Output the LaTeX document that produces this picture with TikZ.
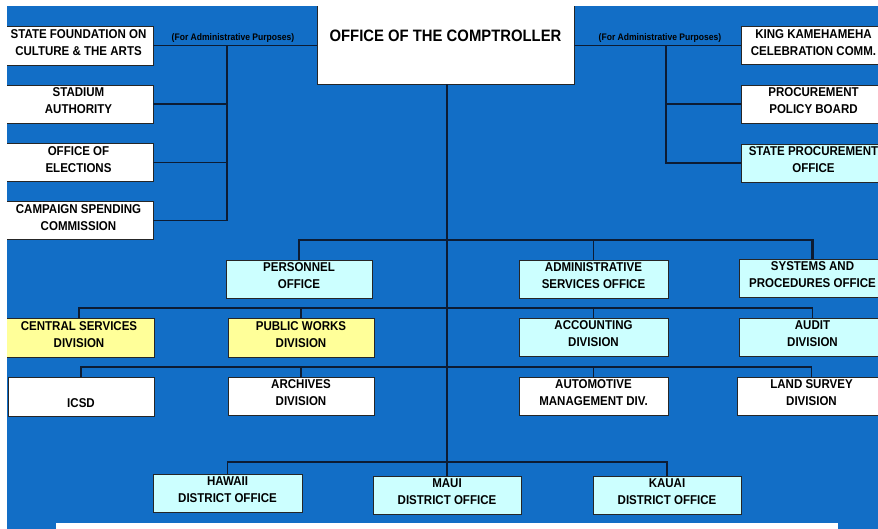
\documentclass[tikz,border=0pt]{standalone}
\usepackage{fontspec}
\setmainfont[FakeStretch=0.9]{Liberation Sans}
\usepackage{tikz}
\definecolor{org_blue}{RGB}{18, 110, 198}
\definecolor{org_cyan}{RGB}{204, 255, 255}
\definecolor{org_yellow}{RGB}{255, 255, 153}
\definecolor{org_line}{RGB}{12, 28, 52}
\tikzstyle{wb}=[rectangle,fill=white,draw=black!85,line width=0.9pt,inner sep=0pt,
  minimum width=146pt,minimum height=38pt,align=center,font=\fontsize{12.8}{17}\selectfont\bfseries,
  execute at end node={\rule[-6pt]{0pt}{6pt}}]
\tikzstyle{cb}=[wb,fill=org_cyan]
\tikzstyle{yb}=[wb,fill=org_yellow]
\tikzstyle{tb}=[rectangle,fill=white,draw=black!85,line width=0.9pt,inner sep=0pt,
  minimum width=257pt,minimum height=82pt,align=center,font=\fontsize{16.5}{11}\selectfont\bfseries]
\tikzstyle{ln}=[draw=org_line,line width=1.3pt]
\tikzstyle{note}=[inner sep=0pt,font=\fontsize{9.5}{11}\selectfont\bfseries]

\begin{document}
\begin{tikzpicture}[x=1pt,y=-1pt]
    \useasboundingbox (0,0) rectangle (878,529);
    \fill[org_blue] (0,0) rectangle (878,529);
    % top level
    \node [style=tb] (comp) at (445.5,43) {OFFICE OF THE COMPTROLLER\\\strut};
    \node [style=wb,minimum width=149pt,minimum height=39pt] (culture) at (78.5,45.5) {STATE FOUNDATION ON\\CULTURE \& THE ARTS};
    \node [style=wb,minimum width=149pt] (stadium) at (78.5,104) {STADIUM\\AUTHORITY};
    \node [style=wb,minimum width=149pt] (elections) at (78.5,162.5) {OFFICE OF\\ELECTIONS};
    \node [style=wb,minimum width=149pt] (campaign) at (78.5,220.5) {CAMPAIGN SPENDING\\COMMISSION};
    \node [style=wb,minimum width=145pt] (king) at (813.5,45.5) {KING KAMEHAMEHA\\CELEBRATION COMM.};
    \node [style=wb,minimum width=145pt] (policy) at (813.5,104) {PROCUREMENT\\POLICY BOARD};
    \node [style=cb,minimum width=145pt] (spo) at (813.5,163) {STATE PROCUREMENT\\OFFICE};
    \node [style=note] (lnote) at (233,38) {(For Administrative Purposes)};
    \node [style=note] (rnote) at (660,38) {(For Administrative Purposes)};
    % staff offices
    \node [style=cb] (pers) at (299,279) {PERSONNEL\\OFFICE};
    \node [style=cb,minimum width=149pt] (adms) at (593.5,279) {ADMINISTRATIVE\\SERVICES OFFICE};
    \node [style=cb,minimum width=147pt] (sysp) at (812.5,278) {SYSTEMS AND\\PROCEDURES OFFICE};
    % divisions
    \node [style=yb,minimum width=150pt,minimum height=39pt] (csd) at (79,337.5) {CENTRAL SERVICES\\DIVISION};
    \node [style=yb,minimum height=39pt] (pwd) at (301,337.5) {PUBLIC WORKS\\DIVISION};
    \node [style=cb,minimum width=149pt] (acct) at (593.5,337) {ACCOUNTING\\DIVISION};
    \node [style=cb,minimum width=147pt] (audit) at (812.5,337) {AUDIT\\DIVISION};
    \node [style=wb,minimum height=39pt] (icsd) at (81,396.5) {\strut\\ICSD};
    \node [style=wb] (arch) at (301,396) {ARCHIVES\\DIVISION};
    \node [style=wb,minimum width=149pt] (auto) at (593.5,396) {AUTOMOTIVE\\MANAGEMENT DIV.};
    \node [style=wb,minimum width=149pt] (land) at (811.5,396) {LAND SURVEY\\DIVISION};
    % district offices
    \node [style=cb,minimum width=149pt] (hawaii) at (227.5,493) {HAWAII\\DISTRICT OFFICE};
    \node [style=cb,minimum width=148pt] (maui) at (447,495) {MAUI\\DISTRICT OFFICE};
    \node [style=cb,minimum width=148pt] (kauai) at (667,495) {KAUAI\\DISTRICT OFFICE};
    \coordinate (lbus) at (227,45.5);
    \coordinate (rbus) at (666,45.5);
    \coordinate (bus1) at (447,240);
    \coordinate (bus2) at (447,308);
    \coordinate (bus3) at (447,367);
    \coordinate (bus4) at (447,462);
    % attached boards
    \draw[ln] (culture.east) to (comp.west |- culture.east);
    \draw[ln] (lbus) |- (campaign.east);
    \draw[ln] (stadium.east) to (stadium.east -| lbus);
    \draw[ln] (elections.east) to (elections.east -| lbus);
    \draw[ln] (comp.east |- king.west) to (king.west);
    \draw[ln] (rbus) |- (spo.west);
    \draw[ln] (policy.west) to (policy.west -| rbus);
    % main line
    \draw[ln] (comp.south -| maui.north) to (maui.north);
    \draw[ln] (pers.north) |- (bus1) -| (adms.north);
    \draw[ln,line width=2.8pt] (adms.north |- bus1) -| (sysp.north);
    \draw[ln] (csd.north) |- (bus2) -| (audit.north);
    \draw[ln] (pwd.north) to (pwd.north |- bus2);
    \draw[ln] (acct.north) to (acct.north |- bus2);
    \draw[ln] (icsd.north) |- (bus3) -| (land.north);
    \draw[ln] (arch.north) to (arch.north |- bus3);
    \draw[ln] (auto.north) to (auto.north |- bus3);
    \draw[ln] (hawaii.north) |- (bus4) -| (kauai.north);
    % frame
    \draw[white,line width=2pt,fill=white] (57,524) rectangle (837,540);
    \fill[white] (0,0) rectangle (7,529);
    \fill[white] (0,0) rectangle (878,6);
\end{tikzpicture}
\end{document}
